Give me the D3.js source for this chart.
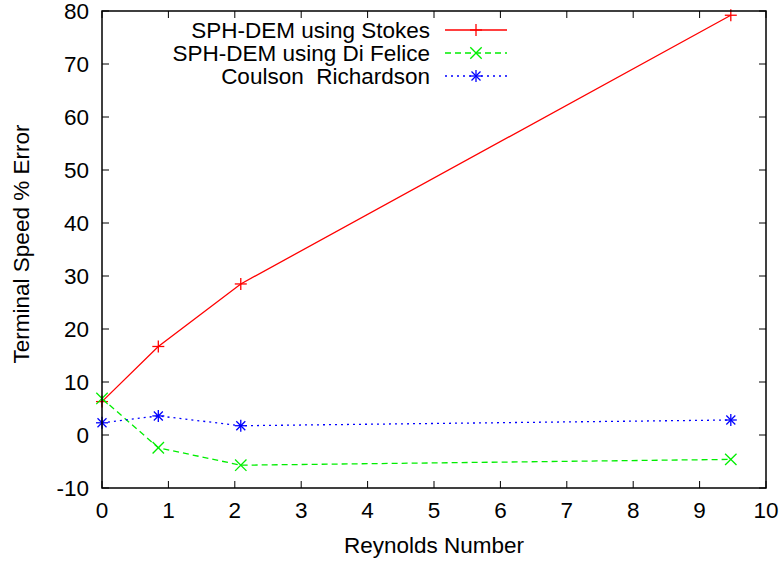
<!DOCTYPE html>
<html><head><meta charset="utf-8">
<script src="https://cdn.jsdelivr.net/npm/d3@7"></script>
<style>body{margin:0;background:#fff}svg{display:block}text{font-family:"Liberation Sans",Arial,sans-serif;fill:#000;white-space:pre}</style>
</head><body>
<svg id="c" width="784" height="562"></svg>
<script>
const reynolds = [0, 0.848, 2.09, 9.47];
const stokes = [6.3, 16.7, 28.5, 79.2];
const diFelice = [6.9, -2.4, -5.7, -4.6];
const coulson = [2.3, 3.6, 1.75, 2.83];
const seriesNames = ["SPH-DEM using Stokes", "SPH-DEM using Di Felice", "Coulson  Richardson"];
const xTicks = [0,1,2,3,4,5,6,7,8,9,10];
const yTicks = [-10,0,10,20,30,40,50,60,70,80];

const L=102, R=766, T=11, B=488;
const svg = d3.select("#c");
const x = d3.scaleLinear().domain([0,10]).range([L,R]);
const y = d3.scaleLinear().domain([-10,80]).range([B,T]);
const fs = 22.5, tl = 7;

const series = [
  {name:seriesNames[0], vals:stokes, color:"#ff0000", dash:null, marker:"plus"},
  {name:seriesNames[1], vals:diFelice, color:"#00ee00", dash:"6,4", marker:"cross"},
  {name:seriesNames[2], vals:coulson, color:"#0000ff", dash:"2,4", marker:"star"}
];

// ticks (mirrored, inward)
const tk = svg.append("g").attr("stroke","#000").attr("stroke-width",1);
xTicks.forEach(v=>{
  tk.append("line").attr("x1",x(v)).attr("x2",x(v)).attr("y1",B).attr("y2",B-tl);
  tk.append("line").attr("x1",x(v)).attr("x2",x(v)).attr("y1",T).attr("y2",T+tl);
});
yTicks.forEach(v=>{
  tk.append("line").attr("x1",L).attr("x2",L+tl).attr("y1",y(v)).attr("y2",y(v));
  tk.append("line").attr("x1",R).attr("x2",R-tl).attr("y1",y(v)).attr("y2",y(v));
});
svg.append("g").selectAll("text").data(xTicks).join("text")
  .attr("x",d=>x(d)).attr("y",B+30).attr("text-anchor","middle").attr("font-size",fs).text(d=>d);
svg.append("g").selectAll("text").data(yTicks).join("text")
  .attr("x",L-13).attr("y",d=>y(d)+8).attr("text-anchor","end").attr("font-size",fs).text(d=>d);

svg.append("text").attr("x",(L+R)/2).attr("y",553).attr("text-anchor","middle").attr("font-size",fs).text("Reynolds Number");
svg.append("text").attr("transform",`translate(29,244) rotate(-90)`).attr("text-anchor","middle").attr("font-size",fs).text("Terminal Speed % Error");

function marker(g, cx, cy, type, color){
  const s=6;
  const m = g.append("g").attr("stroke",color).attr("stroke-width",1.3).attr("fill","none");
  if(type==="plus"||type==="star"){
    m.append("line").attr("x1",cx-s).attr("x2",cx+s).attr("y1",cy).attr("y2",cy);
    m.append("line").attr("x1",cx).attr("x2",cx).attr("y1",cy-s).attr("y2",cy+s);
  }
  if(type==="cross"||type==="star"){
    const d = type==="star"? s*0.75 : s*0.95;
    m.append("line").attr("x1",cx-d).attr("x2",cx+d).attr("y1",cy-d).attr("y2",cy+d);
    m.append("line").attr("x1",cx-d).attr("x2",cx+d).attr("y1",cy+d).attr("y2",cy-d);
  }
}

const line = d3.line().x(d=>x(d[0])).y(d=>y(d[1]));
const plot = svg.append("g");
series.forEach(s=>{
  const pts = reynolds.map((r,i)=>[r,s.vals[i]]);
  plot.append("path").attr("d",line(pts)).attr("fill","none").attr("stroke",s.color)
    .attr("stroke-width",1.3).attr("stroke-dasharray",s.dash);
  pts.forEach(p=>marker(plot,x(p[0]),y(p[1]),s.marker,s.color));
});

// legend
series.forEach((s,i)=>{
  const ly = 30 + i*23;
  svg.append("text").attr("x",430).attr("y",ly+8).attr("text-anchor","end").attr("font-size",fs)
    .attr("xml:space","preserve").text(s.name);
  svg.append("line").attr("x1",445).attr("x2",507).attr("y1",ly).attr("y2",ly)
    .attr("stroke",s.color).attr("stroke-width",1.3).attr("stroke-dasharray",s.dash);
  marker(svg,476,ly,s.marker,s.color);
});

// frame
svg.append("rect").attr("x",L).attr("y",T).attr("width",R-L).attr("height",B-T)
  .attr("fill","none").attr("stroke","#000").attr("stroke-width",1.5);
</script>
</body></html>
